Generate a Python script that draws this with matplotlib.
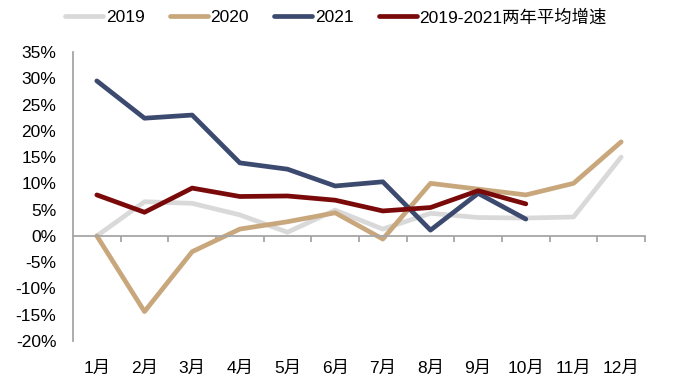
import numpy as np
import matplotlib
matplotlib.use('Agg')
import matplotlib.pyplot as plt
from matplotlib.ticker import FixedLocator, FuncFormatter

plt.rcParams['font.family'] = ['Liberation Sans', 'Noto Sans CJK SC', 'DejaVu Sans']

months = ['1月', '2月', '3月', '4月', '5月', '6月', '7月', '8月', '9月', '10月', '11月', '12月']
y2019 = [0.0, 6.5, 6.2, 4.0, 0.7, 4.9, 1.3, 4.3, 3.5, 3.4, 3.6, 15.0]
y2020 = [0.0, -14.4, -3.0, 1.3, 2.7, 4.4, -0.6, 10.0, 8.9, 7.8, 10.0, 17.9]
y2021 = [29.5, 22.4, 23.0, 13.9, 12.7, 9.5, 10.3, 1.1, 8.1, 3.2]
avg_2y = [7.8, 4.5, 9.1, 7.5, 7.6, 6.8, 4.75, 5.4, 8.6, 6.1]

series = [
    ('2019', y2019, '#d9d9d9'),
    ('2020', y2020, '#c9a77c'),
    ('2021', y2021, '#3b4a6e'),
    ('2019-2021两年平均增速', avg_2y, '#7a0a0a'),
]

fig = plt.figure(figsize=(6.75, 3.86), dpi=100)
ax = fig.add_axes([73 / 675, 1 - 341 / 386, (645 - 73) / 675, (341 - 52) / 386])

for name, vals, color in series:
    x = np.arange(len(vals))
    ax.plot(x, vals, color=color, lw=3.4, label=name, solid_capstyle='round', solid_joinstyle='round')

ax.set_xlim(-0.5, 11.5)
ax.set_ylim(-20, 35)
ax.set_yticks(np.arange(-20, 36, 5))
ax.yaxis.set_major_formatter(FuncFormatter(lambda v, p: f'{v:.0f}%'))

ax.set_xticks(np.arange(len(months)))
ax.set_xticklabels(months)
ax.xaxis.set_minor_locator(FixedLocator(np.arange(0.5, 12, 1)))

for s in ['top', 'right']:
    ax.spines[s].set_visible(False)
ax.spines['bottom'].set_position(('data', 0))
ax.spines['bottom'].set_color('#a6a6a6')
ax.spines['left'].set_color('#a6a6a6')
ax.spines['bottom'].set_linewidth(1.3)
ax.spines['left'].set_linewidth(1.3)

ax.tick_params(axis='y', length=0, pad=12, labelsize=12.5)
ax.tick_params(axis='x', which='major', length=0, pad=90, labelsize=12.5)
ax.tick_params(axis='x', which='minor', length=4, width=1.3, color='#a6a6a6', direction='out')

fig.legend(loc='center', bbox_to_anchor=(336 / 675, 1 - 17 / 386), ncol=4, frameon=False,
           fontsize=12.5, handlelength=2.2, handletextpad=0.15, columnspacing=1.45,
           borderaxespad=0)

fig.savefig('out.png', dpi=100)
